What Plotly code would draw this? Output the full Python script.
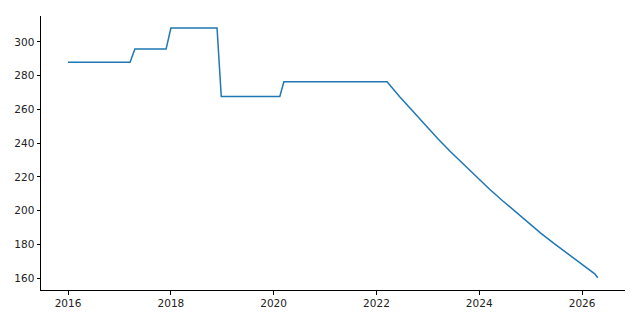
import plotly.graph_objects as go

dates = [
    "2016-01-01", "2017-03-17", "2017-04-20", "2017-11-28", "2018-01-01",
    "2018-11-25", "2018-12-25", "2020-02-14", "2020-03-14", "2022-03-17",
    "2022-06-15", "2022-09-15", "2022-12-15", "2023-03-15", "2023-06-15",
    "2023-09-15", "2023-12-15", "2024-03-15", "2024-06-15", "2024-09-15",
    "2024-12-15", "2025-03-15", "2025-06-15", "2025-09-15", "2025-12-15",
    "2026-03-15", "2026-04-01", "2026-04-22",
]
values = [
    288.0, 288.0, 295.8, 295.8, 308.3,
    308.3, 267.7, 267.7, 276.4, 276.4,
    267.5, 258.9, 250.6, 242.5, 234.6,
    227.1, 219.8, 212.7, 205.9, 199.3,
    192.9, 186.6, 180.6, 174.8, 169.2,
    163.8, 162.6, 160.3,
]

y_ticks = [160, 180, 200, 220, 240, 260, 280, 300]

fig = go.Figure()
fig.add_trace(go.Scatter(x=dates, y=values, mode="lines",
                         line=dict(color="#1f77b4", width=1.5)))

axis_font = dict(family="DejaVu Sans", size=10.5, color="#222222")
fig.update_layout(
    width=640, height=320,
    margin=dict(l=41, r=15, t=16, b=30),
    plot_bgcolor="white", paper_bgcolor="white",
    showlegend=False,
    xaxis=dict(
        type="date",
        range=["2015-06-23", "2026-11-02"],
        tick0="2016-01-01", dtick="M24", tickformat="%Y",
        showgrid=False, zeroline=False,
        showline=True, linecolor="black", linewidth=1,
        ticks="outside", ticklen=3.5, tickwidth=1, tickcolor="black",
        tickfont=axis_font,
    ),
    yaxis=dict(
        range=[153.0, 315.4],
        tickvals=y_ticks,
        showgrid=False, zeroline=False,
        showline=True, linecolor="black", linewidth=1,
        ticks="outside", ticklen=3.5, tickwidth=1, tickcolor="black",
        tickfont=axis_font,
    ),
)

fig.write_html("out.html")
